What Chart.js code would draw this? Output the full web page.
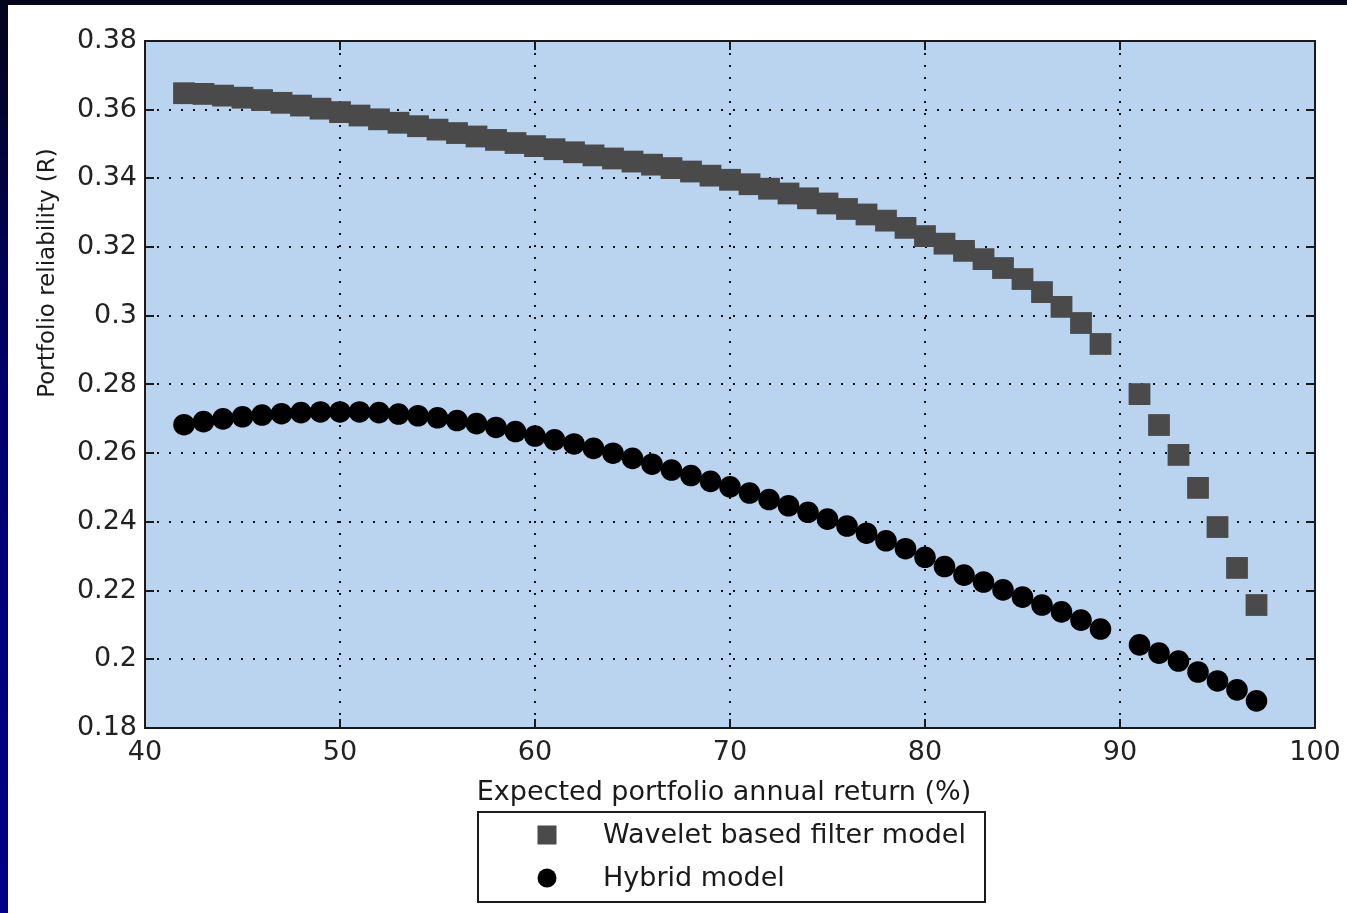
<!DOCTYPE html>
<html>
<head>
<meta charset="utf-8">
<title>Portfolio reliability vs expected return</title>
<script src="https://cdn.jsdelivr.net/npm/chart.js@4"></script>
<style>
  html, body { margin: 0; padding: 0; }
  body {
    width: 1347px;
    height: 913px;
    overflow: hidden;
    background: linear-gradient(to bottom, #04041c 0%, #000070 45%, #00008a 100%);
    position: relative;
  }
  #chart {
    position: absolute;
    left: 8px;
    top: 5px;
    background: #ffffff;
  }
</style>
</head>
<body>
<canvas id="chart" width="1339" height="908"></canvas>
<script>
// expected annual return (%) – 90 has no solution for either model
const returns = [
  42, 43, 44, 45, 46, 47, 48, 49, 50, 51,
  52, 53, 54, 55, 56, 57, 58, 59, 60, 61,
  62, 63, 64, 65, 66, 67, 68, 69, 70, 71,
  72, 73, 74, 75, 76, 77, 78, 79, 80, 81,
  82, 83, 84, 85, 86, 87, 88, 89,
  91, 92, 93, 94, 95, 96, 97,
];

const waveletReliability = [
  0.3648, 0.3646, 0.3641, 0.3635, 0.3628, 0.3620, 0.3612, 0.3603, 0.3593, 0.3583,
  0.3572, 0.3562, 0.3552, 0.3542, 0.3532, 0.3522, 0.3512, 0.3503, 0.3494, 0.3485,
  0.3476, 0.3467, 0.3458, 0.3449, 0.3440, 0.3430, 0.3420, 0.3408, 0.3396, 0.3383,
  0.3370, 0.3356, 0.3342, 0.3327, 0.3311, 0.3295, 0.3277, 0.3256, 0.3232, 0.3210,
  0.3189, 0.3165, 0.3139, 0.3107, 0.3069, 0.3026, 0.2979, 0.2918,
  0.2772, 0.2682, 0.2595, 0.2499, 0.2385, 0.2266, 0.2158,
];

const hybridReliability = [
  0.2683, 0.2692, 0.2700, 0.2706, 0.2711, 0.2715, 0.2718, 0.2720, 0.2720, 0.2720,
  0.2718, 0.2714, 0.2709, 0.2703, 0.2695, 0.2686, 0.2675, 0.2663, 0.2650, 0.2639,
  0.2627, 0.2614, 0.2600, 0.2585, 0.2568, 0.2551, 0.2535, 0.2518, 0.2502, 0.2484,
  0.2465, 0.2447, 0.2428, 0.2408, 0.2388, 0.2367, 0.2345, 0.2322, 0.2297, 0.2270,
  0.2245, 0.2225, 0.2202, 0.2181, 0.2158, 0.2138, 0.2114, 0.2088,
  0.2042, 0.2018, 0.1995, 0.1963, 0.1937, 0.1911, 0.1879,
];

const seriesNames = ["Wavelet based filter model", "Hybrid model"];
const xTitle = "Expected portfolio annual return (%)";
const yTitle = "Portfolio reliability (R)";

const FONT = "'DejaVu Sans', sans-serif";
const INK = "#1a1a1a";

const toPoints = (ys) => returns.map((x, i) => ({ x, y: ys[i] }));

// light blue axes background, like a MATLAB figure
const plotBackground = {
  id: "plotBackground",
  beforeDraw(chart) {
    const { ctx, chartArea: a } = chart;
    ctx.save();
    ctx.fillStyle = "#bad4f0";
    ctx.fillRect(a.left, a.top, a.right - a.left, a.bottom - a.top);
    ctx.restore();
  },
};

// box around the axes plus inward tick marks on all four sides
const axesFrame = {
  id: "axesFrame",
  afterDatasetsDraw(chart) {
    const { ctx, chartArea: a, scales } = chart;
    const len = 9;
    ctx.save();
    ctx.strokeStyle = INK;
    ctx.lineWidth = 2;
    ctx.beginPath();
    scales.x.ticks.forEach((t) => {
      const px = Math.round(scales.x.getPixelForValue(t.value));
      ctx.moveTo(px, a.bottom);
      ctx.lineTo(px, a.bottom - len);
      ctx.moveTo(px, a.top);
      ctx.lineTo(px, a.top + len);
    });
    scales.y.ticks.forEach((t) => {
      const py = Math.round(scales.y.getPixelForValue(t.value));
      ctx.moveTo(a.left, py);
      ctx.lineTo(a.left + len, py);
      ctx.moveTo(a.right, py);
      ctx.lineTo(a.right - len, py);
    });
    ctx.stroke();
    ctx.strokeRect(a.left, a.top, a.right - a.left, a.bottom - a.top);
    ctx.restore();
  },
};

// axis titles and the boxed legend under the x title
const annotations = {
  id: "annotations",
  afterDraw(chart) {
    const { ctx } = chart;
    ctx.save();
    ctx.fillStyle = INK;

    ctx.font = `27px ${FONT}`;
    ctx.textAlign = "center";
    ctx.textBaseline = "alphabetic";
    ctx.fillText(xTitle, 716, 795);

    ctx.save();
    ctx.translate(46, 268);
    ctx.rotate(-Math.PI / 2);
    ctx.font = `23px ${FONT}`;
    ctx.fillText(yTitle, 0, 0);
    ctx.restore();

    // legend
    const box = { x: 470, y: 807, w: 507, h: 90 };
    ctx.fillStyle = "#ffffff";
    ctx.fillRect(box.x, box.y, box.w, box.h);
    ctx.strokeStyle = INK;
    ctx.lineWidth = 2;
    ctx.strokeRect(box.x, box.y, box.w, box.h);

    const rows = [830, 873];
    const mx = 539;
    chart.data.datasets.forEach((ds, i) => {
      const cy = rows[i];
      ctx.fillStyle = ds.pointBackgroundColor;
      if (ds.pointStyle === "rect") {
        ctx.fillRect(mx - 9.5, cy - 9.5, 19, 19);
      } else {
        ctx.beginPath();
        ctx.arc(mx, cy, 9.5, 0, Math.PI * 2);
        ctx.fill();
      }
      ctx.fillStyle = INK;
      ctx.font = `27px ${FONT}`;
      ctx.textAlign = "left";
      ctx.textBaseline = "middle";
      ctx.fillText(ds.label, 595, cy + 1);
    });
    ctx.restore();
  },
};

const tickFont = { family: FONT, size: 27 };

new Chart(document.getElementById("chart"), {
  type: "scatter",
  data: {
    datasets: [
      {
        label: seriesNames[0],
        data: toPoints(waveletReliability),
        pointStyle: "rect",
        pointRadius: 15.4,
        pointHoverRadius: 15.4,
        pointBorderWidth: 0,
        pointBackgroundColor: "#4a4a4a",
        pointBorderColor: "#4a4a4a",
      },
      {
        label: seriesNames[1],
        data: toPoints(hybridReliability),
        pointStyle: "circle",
        pointRadius: 10.8,
        pointHoverRadius: 10.8,
        pointBorderWidth: 0,
        pointBackgroundColor: "#000000",
        pointBorderColor: "#000000",
      },
    ],
  },
  options: {
    responsive: false,
    animation: false,
    devicePixelRatio: 1,
    layout: { padding: { left: 0, top: 36, right: 32, bottom: 125 } },
    plugins: {
      legend: { display: false },
      tooltip: { enabled: false },
    },
    scales: {
      x: {
        type: "linear",
        min: 40,
        max: 100,
        // fixed box; the end labels may hang past the plot edges
        afterFit: (s) => {
          s.height = 60;
          s.paddingLeft = 0;
          s.paddingRight = 0;
        },
        border: { display: false, dash: [2, 10] },
        grid: { color: "#111111", lineWidth: 2, drawTicks: false },
        ticks: {
          stepSize: 10,
          autoSkip: false,
          maxRotation: 0,
          padding: 9,
          color: "#222222",
          font: tickFont,
        },
      },
      y: {
        type: "linear",
        min: 0.18,
        max: 0.38,
        afterFit: (s) => { s.width = 137; },
        border: { display: false, dash: [2, 10] },
        grid: { color: "#111111", lineWidth: 2, drawTicks: false },
        ticks: {
          stepSize: 0.02,
          padding: 8,
          color: "#222222",
          font: tickFont,
          callback: (v) => String(+v.toFixed(2)),
        },
      },
    },
  },
  plugins: [plotBackground, axesFrame, annotations],
});
</script>
</body>
</html>
